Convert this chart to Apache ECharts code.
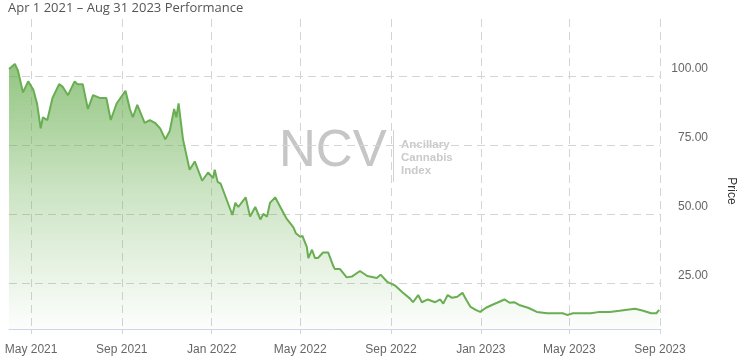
<!DOCTYPE html>
<html>
<head>
<meta charset="utf-8">
<script src="https://cdn.jsdelivr.net/npm/echarts@6/dist/echarts.min.js"></script>
<style>
html,body{margin:0;padding:0;background:#fff;}
#chart{width:739px;height:364px;}
</style>
</head>
<body>
<div id="chart"></div>
<script>
var titleText = 'Apr 1 2021 \u2013 Aug 31 2023 Performance';
var dates = ['2021-04-01','2021-04-09','2021-04-13','2021-04-20','2021-04-27','2021-05-04','2021-05-09','2021-05-14','2021-05-17','2021-05-23','2021-05-30','2021-06-08','2021-06-13','2021-06-20','2021-06-29','2021-07-03','2021-07-10','2021-07-17','2021-07-24','2021-08-02','2021-08-11','2021-08-17','2021-08-25','2021-09-06','2021-09-12','2021-09-16','2021-09-22','2021-10-02','2021-10-09','2021-10-16','2021-10-23','2021-10-30','2021-11-05','2021-11-11','2021-11-14','2021-11-17','2021-11-23','2021-12-02','2021-12-09','2021-12-19','2021-12-27','2022-01-03','2022-01-05','2022-01-09','2022-01-13','2022-01-29','2022-02-02','2022-02-06','2022-02-16','2022-02-22','2022-03-01','2022-03-08','2022-03-12','2022-03-17','2022-03-21','2022-03-28','2022-04-04','2022-04-12','2022-04-22','2022-04-25','2022-05-01','2022-05-04','2022-05-10','2022-05-12','2022-05-17','2022-05-21','2022-05-25','2022-06-01','2022-06-08','2022-06-15','2022-06-17','2022-06-24','2022-06-27','2022-07-03','2022-07-10','2022-07-21','2022-07-31','2022-08-13','2022-08-18','2022-08-27','2022-09-07','2022-09-17','2022-09-27','2022-10-01','2022-10-08','2022-10-13','2022-10-21','2022-10-31','2022-11-07','2022-11-11','2022-11-17','2022-11-23','2022-11-30','2022-12-07','2022-12-12','2022-12-18','2022-12-25','2022-12-31','2023-01-08','2023-01-16','2023-01-23','2023-02-02','2023-02-09','2023-02-15','2023-02-22','2023-03-06','2023-03-18','2023-04-01','2023-04-09','2023-04-22','2023-04-28','2023-05-06','2023-05-16','2023-05-30','2023-06-11','2023-06-25','2023-07-08','2023-07-29','2023-08-08','2023-08-20','2023-08-27','2023-08-31'];
var prices = [102.5,104.3,102,94,98,95,90,81,85,84,92,97,96,93,98,97,97,88,93,92,92,84,90,94.6,88,85,89.5,83,84,83,81,77,80,88,85,90,77,66,69,62,65,63,66,61.6,61,49.6,54,52.5,56,49,52.5,48,50,49,54,56,52.5,48.5,45,43,41.7,42,38,34,37,34,34,36,36,31,30,30,29,27,27.3,29.3,27.5,26.8,28,25.4,24,21.5,19.3,18,20.6,18,19,18,19,17.5,20.6,19.6,20,21.4,19,16.3,15.2,14.5,16,17,17.8,19,17.8,18,17,16,14.5,14,14,14,13.4,14,14,14,14.5,14.5,14.9,15.6,15,14,14,15.2];
var xTickDates = ['2021-05-01','2021-09-01','2022-01-01','2022-05-01','2022-09-01','2023-01-01','2023-05-01','2023-09-01'];
var yTicks = [25, 50, 75, 100];
var monthNames = ['Jan','Feb','Mar','Apr','May','Jun','Jul','Aug','Sep','Oct','Nov','Dec'];

function toTs(s){ var p = s.split('-'); return Date.UTC(+p[0], +p[1]-1, +p[2]); }
var seriesData = dates.map(function(d, i){ return [toTs(d), prices[i]]; });
var xTicks = xTickDates.map(toTs);

var chart = echarts.init(document.getElementById('chart'));
chart.setOption({
  animation: false,
  title: {
    text: titleText, left: 3, top: -3,
    textStyle: {fontFamily: 'Open Sans', fontSize: 13, fontWeight: 'normal', color: '#555'}
  },
  grid: {left: 9, right: 79, top: 19, bottom: 35, outerBoundsMode: 'none'},
  xAxis: {
    type: 'value',
    min: toTs('2021-04-01'), max: toTs('2023-09-01'),
    axisLine: {lineStyle: {color: '#ccd6eb'}},
    axisTick: {show: true, length: 5, customValues: xTicks, lineStyle: {color: '#ccd6eb'}},
    axisLabel: {
      customValues: xTicks, margin: 15,
      fontFamily: 'Liberation Sans, Arial', fontSize: 12, color: '#666',
      formatter: function(v){ var d = new Date(v); return monthNames[d.getUTCMonth()] + ' ' + d.getUTCFullYear(); }
    },
    splitLine: {show: true, lineStyle: {color: '#d4d4d4', type: [8, 5], width: 1}}
  },
  yAxis: {
    type: 'value', position: 'right',
    min: 8.3, max: 120.6,
    name: 'Price', nameLocation: 'middle', nameGap: 65, nameRotate: -90,
    nameTextStyle: {fontFamily: 'Liberation Sans, Arial', fontSize: 12, color: '#333', padding: [0, 0, 0, 34]},
    axisLine: {show: false},
    axisTick: {show: false, customValues: yTicks},
    axisLabel: {
      customValues: yTicks, align: 'right', margin: 48, verticalAlign: 'bottom', padding: [0, 0, 1, 0],
      fontFamily: 'Liberation Sans, Arial', fontSize: 12, color: '#666',
      formatter: function(v){ return v.toFixed(2); }
    },
    splitLine: {show: true, lineStyle: {color: '#d4d4d4', type: [8, 5], width: 1}}
  },
  graphic: [
    {type: 'text', z: -1, left: 279, top: 126, style: {text: 'NCV', fontFamily: 'Liberation Sans, Arial', fontSize: 51, fill: '#c6c6c6'}},
    {type: 'rect', z: -1, shape: {x: 393, y: 130, width: 1, height: 52}, style: {fill: '#d2d2d2'}},
    {type: 'text', z: -1, left: 401, top: 138, style: {text: 'Ancillary\nCannabis\nIndex', fontFamily: 'Liberation Sans, Arial', fontSize: 11.5, fontWeight: 'bold', lineHeight: 13, fill: '#cacaca'}}
  ],
  series: [{
    type: 'line',
    data: seriesData,
    showSymbol: false,
    lineStyle: {color: '#69ae52', width: 2},
    itemStyle: {color: '#69ae52'},
    areaStyle: {
      color: new echarts.graphic.LinearGradient(0, 0, 0, 1, [
        {offset: 0, color: 'rgba(100,172,75,1)'},
        {offset: 0.5, color: 'rgba(100,172,75,0.45)'},
        {offset: 1, color: 'rgba(100,172,75,0.02)'}
      ])
    }
  }]
});
</script>
</body>
</html>
